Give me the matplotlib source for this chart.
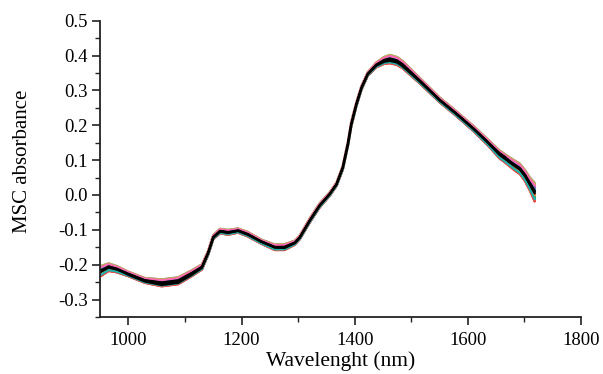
import matplotlib
matplotlib.use("Agg")
import matplotlib.pyplot as plt
from matplotlib.ticker import MultipleLocator
import numpy as np

# Wavelength grid (nm) and spectral band
wavelength = [952, 965, 980, 1000, 1029, 1059, 1088, 1112, 1130, 1141, 1150,
              1162, 1176, 1194, 1211, 1235, 1259, 1276, 1294, 1303, 1321, 1338,
              1356, 1368, 1379, 1388, 1394, 1403, 1412, 1423, 1438, 1452, 1462,
              1475, 1485, 1515, 1550, 1580, 1610, 1635, 1656, 1665, 1674, 1683,
              1692, 1701, 1709, 1718]
mean_abs = [-0.219, -0.205, -0.212, -0.229, -0.248, -0.258, -0.252, -0.229,
            -0.209, -0.166, -0.123, -0.105, -0.109, -0.103, -0.114, -0.133,
            -0.150, -0.152, -0.138, -0.122, -0.073, -0.031, 0.003, 0.031,
            0.079, 0.146, 0.203, 0.260, 0.307, 0.346, 0.371, 0.382, 0.385,
            0.380, 0.369, 0.326, 0.272, 0.232, 0.190, 0.152, 0.120, 0.110,
            0.097, 0.086, 0.076, 0.058, 0.036, 0.010]
band_low = [-0.232, -0.218, -0.222, -0.233, -0.252, -0.262, -0.256, -0.233,
            -0.214, -0.172, -0.127, -0.110, -0.114, -0.108, -0.119, -0.140,
            -0.158, -0.158, -0.143, -0.127, -0.078, -0.036, -0.002, 0.026,
            0.073, 0.140, 0.197, 0.255, 0.302, 0.342, 0.366, 0.376, 0.378,
            0.373, 0.363, 0.320, 0.266, 0.226, 0.183, 0.143, 0.105, 0.094,
            0.082, 0.070, 0.060, 0.040, 0.015, -0.018]
band_high = [-0.203, -0.196, -0.204, -0.220, -0.238, -0.242, -0.236, -0.216,
             -0.199, -0.160, -0.115, -0.097, -0.100, -0.096, -0.106, -0.128,
             -0.142, -0.141, -0.131, -0.116, -0.066, -0.024, 0.008, 0.036,
             0.084, 0.152, 0.210, 0.266, 0.313, 0.352, 0.380, 0.396, 0.402,
             0.396, 0.384, 0.336, 0.280, 0.240, 0.198, 0.160, 0.128, 0.118,
             0.108, 0.099, 0.090, 0.072, 0.052, 0.035]

# Position of each sample spectrum inside the band (0 = low edge, 1 = high edge)
sample_position = [0.0, 0.95, 0.1, 0.85, 0.2, 0.75, 0.3, 0.65, 0.4, 0.55,
                   0.05, 0.9, 0.15, 0.8, 0.25, 0.7, 0.35, 0.6, 0.45, 0.5,
                   1.0, 0.02, 0.98, 0.12, 0.88]
sample_colors = ["#d62728", "#bcbd22", "#17becf", "#e377c2", "#2ca02c",
                 "#9467bd", "#ff7f0e", "#1f77b4", "#8c564b", "#7f7f7f",
                 "#e6550d", "#b5b50a", "#00bcd4", "#c85fc8", "#31a354",
                 "#756bb1", "#fd8d3c", "#3182bd", "#a0522d", "#969696",
                 "#da70d6", "#ff4040", "#9acd32", "#20b2aa", "#ff69b4"]
black_position = [0.42, 0.5, 0.58]

plt.rcParams['font.family'] = ['Liberation Serif', 'DejaVu Serif']

fig = plt.figure(figsize=(6.03, 3.74), dpi=100)
ax = fig.add_axes([0.166, 0.1524, 0.7975, 0.7923])

wl = np.array(wavelength)
lo = np.array(band_low)
hi = np.array(band_high)
for pos, col in zip(sample_position, sample_colors):
    ax.plot(wl, lo + pos * (hi - lo), color=col, lw=1.6, solid_joinstyle='round')
for pos in black_position:
    ax.plot(wl, lo + pos * (hi - lo), color='black', lw=1.4)
ax.plot(wl, mean_abs, color='black', lw=1.6)

ax.set_xlim(950, 1800)
ax.set_ylim(-0.35, 0.5)
ax.xaxis.set_major_locator(MultipleLocator(200))
ax.xaxis.set_minor_locator(MultipleLocator(100))
ax.yaxis.set_major_locator(MultipleLocator(0.1))
ax.yaxis.set_minor_locator(MultipleLocator(0.05))
ax.yaxis.set_major_formatter(matplotlib.ticker.FormatStrFormatter('%.1f'))

for s in ['top', 'right']:
    ax.spines[s].set_visible(False)
for s in ['left', 'bottom']:
    ax.spines[s].set_linewidth(1.3)
    ax.spines[s].set_color('#222222')

ax.tick_params(which='major', direction='out', length=6, width=1.2,
               labelsize=13.5, colors='#222222', labelcolor='black', pad=3)
ax.tick_params(which='minor', direction='out', length=3.5, width=1.0,
               colors='#222222')
ax.tick_params(axis='x', pad=5)

ax.set_xlabel('Wavelenght (nm)', fontsize=15.5)
ax.set_ylabel('MSC absorbance', fontsize=15)
ax.xaxis.set_label_coords(0.501, -0.115)
ax.yaxis.set_label_coords(-0.142, 0.526)

fig.savefig('out.png', dpi=100)
